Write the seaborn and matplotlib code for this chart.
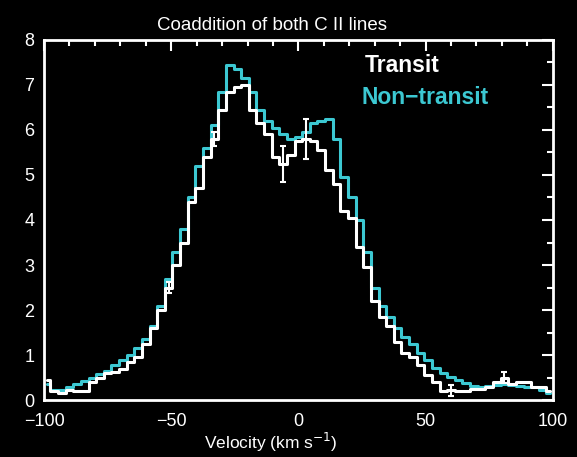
import numpy as np
import pandas as pd
import matplotlib
matplotlib.use("Agg")
import matplotlib.pyplot as plt
from matplotlib.ticker import MultipleLocator
import seaborn as sns

# Velocity bin centres (km/s), 3 km/s bins
velocity = list(range(-99, 100, 3))

# Co-added C II line flux per bin
transit = [0.45, 0.20, 0.15, 0.22, 0.20, 0.20, 0.40, 0.50, 0.60, 0.62,
           0.70, 0.85, 0.95, 1.25, 1.60, 2.00, 2.50, 3.00, 3.50, 4.40,
           4.70, 5.40, 5.80, 6.45, 6.85, 6.95, 7.00, 6.45, 6.15, 5.90,
           5.40, 5.25, 5.45, 5.75, 5.80, 5.75, 5.55, 5.10, 4.80, 4.20,
           4.05, 3.40, 2.95, 2.20, 1.85, 1.65, 1.30, 1.05, 0.95, 0.78,
           0.55, 0.40, 0.20, 0.22, 0.20, 0.20, 0.25, 0.25, 0.30, 0.40,
           0.50, 0.35, 0.40, 0.40, 0.30, 0.30, 0.20]

non_transit = [0.35, 0.22, 0.22, 0.30, 0.35, 0.42, 0.50, 0.58, 0.65, 0.78,
               0.90, 1.00, 1.15, 1.35, 1.65, 2.10, 2.70, 3.30, 3.80, 4.50,
               5.20, 5.60, 6.10, 6.85, 7.45, 7.35, 7.15, 6.85, 6.45, 6.20,
               6.05, 5.90, 5.80, 5.85, 5.95, 6.15, 6.20, 6.25, 5.80, 4.95,
               4.50, 4.00, 3.30, 2.50, 2.10, 1.85, 1.60, 1.40, 1.25, 1.05,
               0.88, 0.72, 0.60, 0.52, 0.45, 0.38, 0.32, 0.30, 0.32, 0.33,
               0.35, 0.33, 0.32, 0.30, 0.28, 0.22, 0.15]

# Representative 1-sigma uncertainties on selected transit bins
err_velocity = [-51, -33, -6, 3, 60, 81]
err_size = [0.12, 0.15, 0.40, 0.45, 0.12, 0.12]

series_names = ["Transit", "Non\u2212transit"]
cyan = "#3cc8d2"
colors = {"Transit": "white", "Non\u2212transit": cyan}

df = pd.concat([
    pd.DataFrame({"velocity": velocity, "flux": transit, "series": series_names[0]}),
    pd.DataFrame({"velocity": velocity, "flux": non_transit, "series": series_names[1]}),
])
err_flux = [transit[velocity.index(v)] for v in err_velocity]

sns.set_style("dark")
plt.rcParams["font.family"] = ["Liberation Sans", "DejaVu Sans"]

fig = plt.figure(figsize=(5.77, 4.57), dpi=100, facecolor="black")
ax = fig.add_axes([0.0763, 0.1247, 0.8817, 0.7878])
ax.set_facecolor("black")

sns.lineplot(data=df, x="velocity", y="flux", hue="series",
             hue_order=series_names[::-1], palette=colors,
             drawstyle="steps-mid", estimator=None, sort=False,
             linewidth=2.2, legend=False, ax=ax)

ax.errorbar(err_velocity, err_flux, yerr=err_size, fmt="none",
            ecolor="white", elinewidth=1.5, capsize=2.5, capthick=1.5)

ax.set_xlim(-100, 100)
ax.set_ylim(0, 8)
ax.xaxis.set_minor_locator(MultipleLocator(10))
ax.yaxis.set_major_locator(MultipleLocator(1))
ax.yaxis.set_minor_locator(MultipleLocator(0.5))
ax.set_xticks([-100, -50, 0, 50, 100])
ax.set_xticklabels(["\u2212100", "\u221250", "0", "50", "100"])
ax.tick_params(which="both", direction="in", top=True, right=True,
               colors="white", labelcolor="white", width=1.5)
ax.tick_params(which="major", length=8, labelsize=13)
ax.tick_params(axis="x", which="major", pad=9)
ax.tick_params(axis="y", which="major", pad=7)
ax.tick_params(which="minor", length=4)
ax.grid(False)
for s in ax.spines.values():
    s.set_color("white")
    s.set_linewidth(2)

ax.set_xlabel("Velocity (km s$^{-1}$)", color="white", fontsize=12.5)
ax.xaxis.set_label_coords(0.445, -0.085)
ax.set_ylabel("")
ax.set_title("Coaddition of both C II lines", color="white", fontsize=13.5,
             pad=7, x=0.448)

ax.text(0.63, 0.93, "Transit", transform=ax.transAxes, color="white",
        fontsize=16.5, fontweight="bold", va="center")
ax.text(0.625, 0.84, "Non\u2212transit", transform=ax.transAxes,
        color=cyan, fontsize=16.5, fontweight="bold", va="center")

fig.savefig("out.png", dpi=100, facecolor="black")
